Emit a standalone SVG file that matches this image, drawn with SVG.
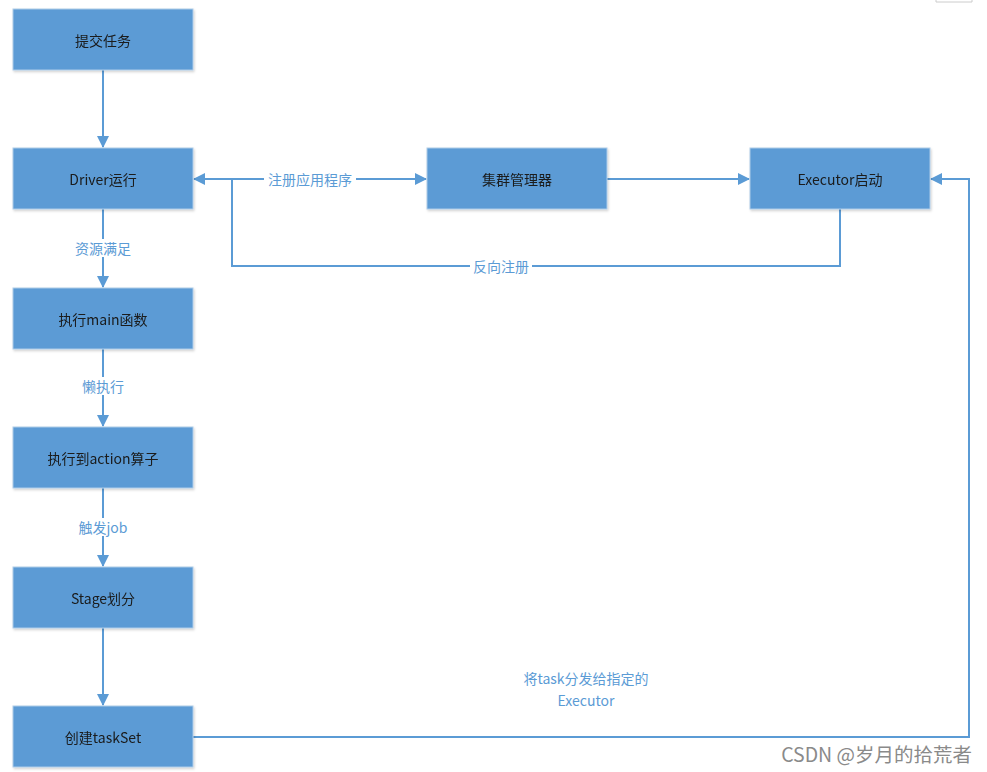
<svg xmlns="http://www.w3.org/2000/svg" width="987" height="772" viewBox="0 0 987 772">
<style>
.box{fill:#5b9bd5;stroke:#aecbe8;stroke-width:1}
.nt{font-family:"Noto Sans CJK SC","Liberation Sans",sans-serif;font-size:14px;fill:#1a1a1a;text-anchor:middle;dominant-baseline:central}
.ln{fill:none;stroke:#5b9bd5;stroke-width:2}
.lt{font-family:"Noto Sans CJK SC","Liberation Sans",sans-serif;font-size:14px;fill:#5b9bd5;text-anchor:middle;dominant-baseline:central}
.bg{fill:#ffffff}
</style>
<defs>
<marker id="ah" viewBox="0 0 12 12" refX="11" refY="6" markerWidth="12" markerHeight="12" markerUnits="userSpaceOnUse" orient="auto-start-reverse">
<path d="M0,0 L12,6 L0,12 Z" fill="#5b9bd5"/>
</marker>
<filter id="sh" x="-5%" y="-10%" width="115%" height="130%">
<feDropShadow dx="1" dy="1.5" stdDeviation="1" flood-color="#000" flood-opacity="0.18"/>
</filter>
</defs>
<rect width="987" height="772" fill="#ffffff"/>
<path d="M936,0 V2 H972 V0" fill="none" stroke="#cccccc" stroke-width="1"/>
<g id="connectors">
<path class="ln" d="M103,70 V147" marker-end="url(#ah)"/>
<path class="ln" d="M103,209 V287" marker-end="url(#ah)"/>
<path class="ln" d="M103,349 V426" marker-end="url(#ah)"/>
<path class="ln" d="M103,488 V566" marker-end="url(#ah)"/>
<path class="ln" d="M103,628 V705" marker-end="url(#ah)"/>
<path class="ln" d="M194,179 H426" marker-start="url(#ah)" marker-end="url(#ah)"/>
<path class="ln" d="M607,179 H749" marker-end="url(#ah)"/>
<path class="ln" d="M840,209 V266 H232 V179"/>
<path class="ln" d="M193,737 H969 V179 H931" marker-end="url(#ah)"/>
<rect class="bg" x="62" y="239" width="82" height="18"/>
<text class="lt" x="103" y="248">资源满足</text>
<rect class="bg" x="74" y="377" width="58" height="18"/>
<text class="lt" x="103" y="386">懒执行</text>
<rect class="bg" x="71" y="518" width="64" height="18"/>
<text class="lt" x="103" y="527">触发job</text>
<rect class="bg" x="264" y="170" width="92" height="18"/>
<text class="lt" x="310" y="179">注册应用程序</text>
<rect class="bg" x="470" y="257" width="62" height="18"/>
<text class="lt" x="501" y="266">反向注册</text>
<text class="lt" x="586" y="678" font-size="13.5">将task分发给指定的</text>
<text class="lt" x="586" y="700" font-size="13.5">Executor</text>
</g>
<g id="n1" filter="url(#sh)"><rect class="box" x="13" y="9" width="180" height="61"/><text class="nt" x="103" y="40">提交任务</text></g>
<g id="n2" filter="url(#sh)"><rect class="box" x="13" y="148" width="180" height="61"/><text class="nt" x="103" y="179">Driver运行</text></g>
<g id="n3" filter="url(#sh)"><rect class="box" x="13" y="288" width="180" height="61"/><text class="nt" x="103" y="319">执行main函数</text></g>
<g id="n4" filter="url(#sh)"><rect class="box" x="13" y="427" width="180" height="61"/><text class="nt" x="103" y="458">执行到action算子</text></g>
<g id="n5" filter="url(#sh)"><rect class="box" x="13" y="567" width="180" height="61"/><text class="nt" x="103" y="598">Stage划分</text></g>
<g id="n6" filter="url(#sh)"><rect class="box" x="13" y="706" width="180" height="61"/><text class="nt" x="103" y="737">创建taskSet</text></g>
<g id="n7" filter="url(#sh)"><rect class="box" x="427" y="148" width="180" height="61"/><text class="nt" x="517" y="179">集群管理器</text></g>
<g id="n8" filter="url(#sh)"><rect class="box" x="750" y="148" width="180" height="61"/><text class="nt" x="840" y="179">Executor启动</text></g>
<text x="972" y="753" font-family="Noto Sans CJK SC, Liberation Sans, sans-serif" font-size="19.5" fill="#8a8a8a" text-anchor="end" dominant-baseline="central">CSDN @岁月的拾荒者</text>
</svg>
